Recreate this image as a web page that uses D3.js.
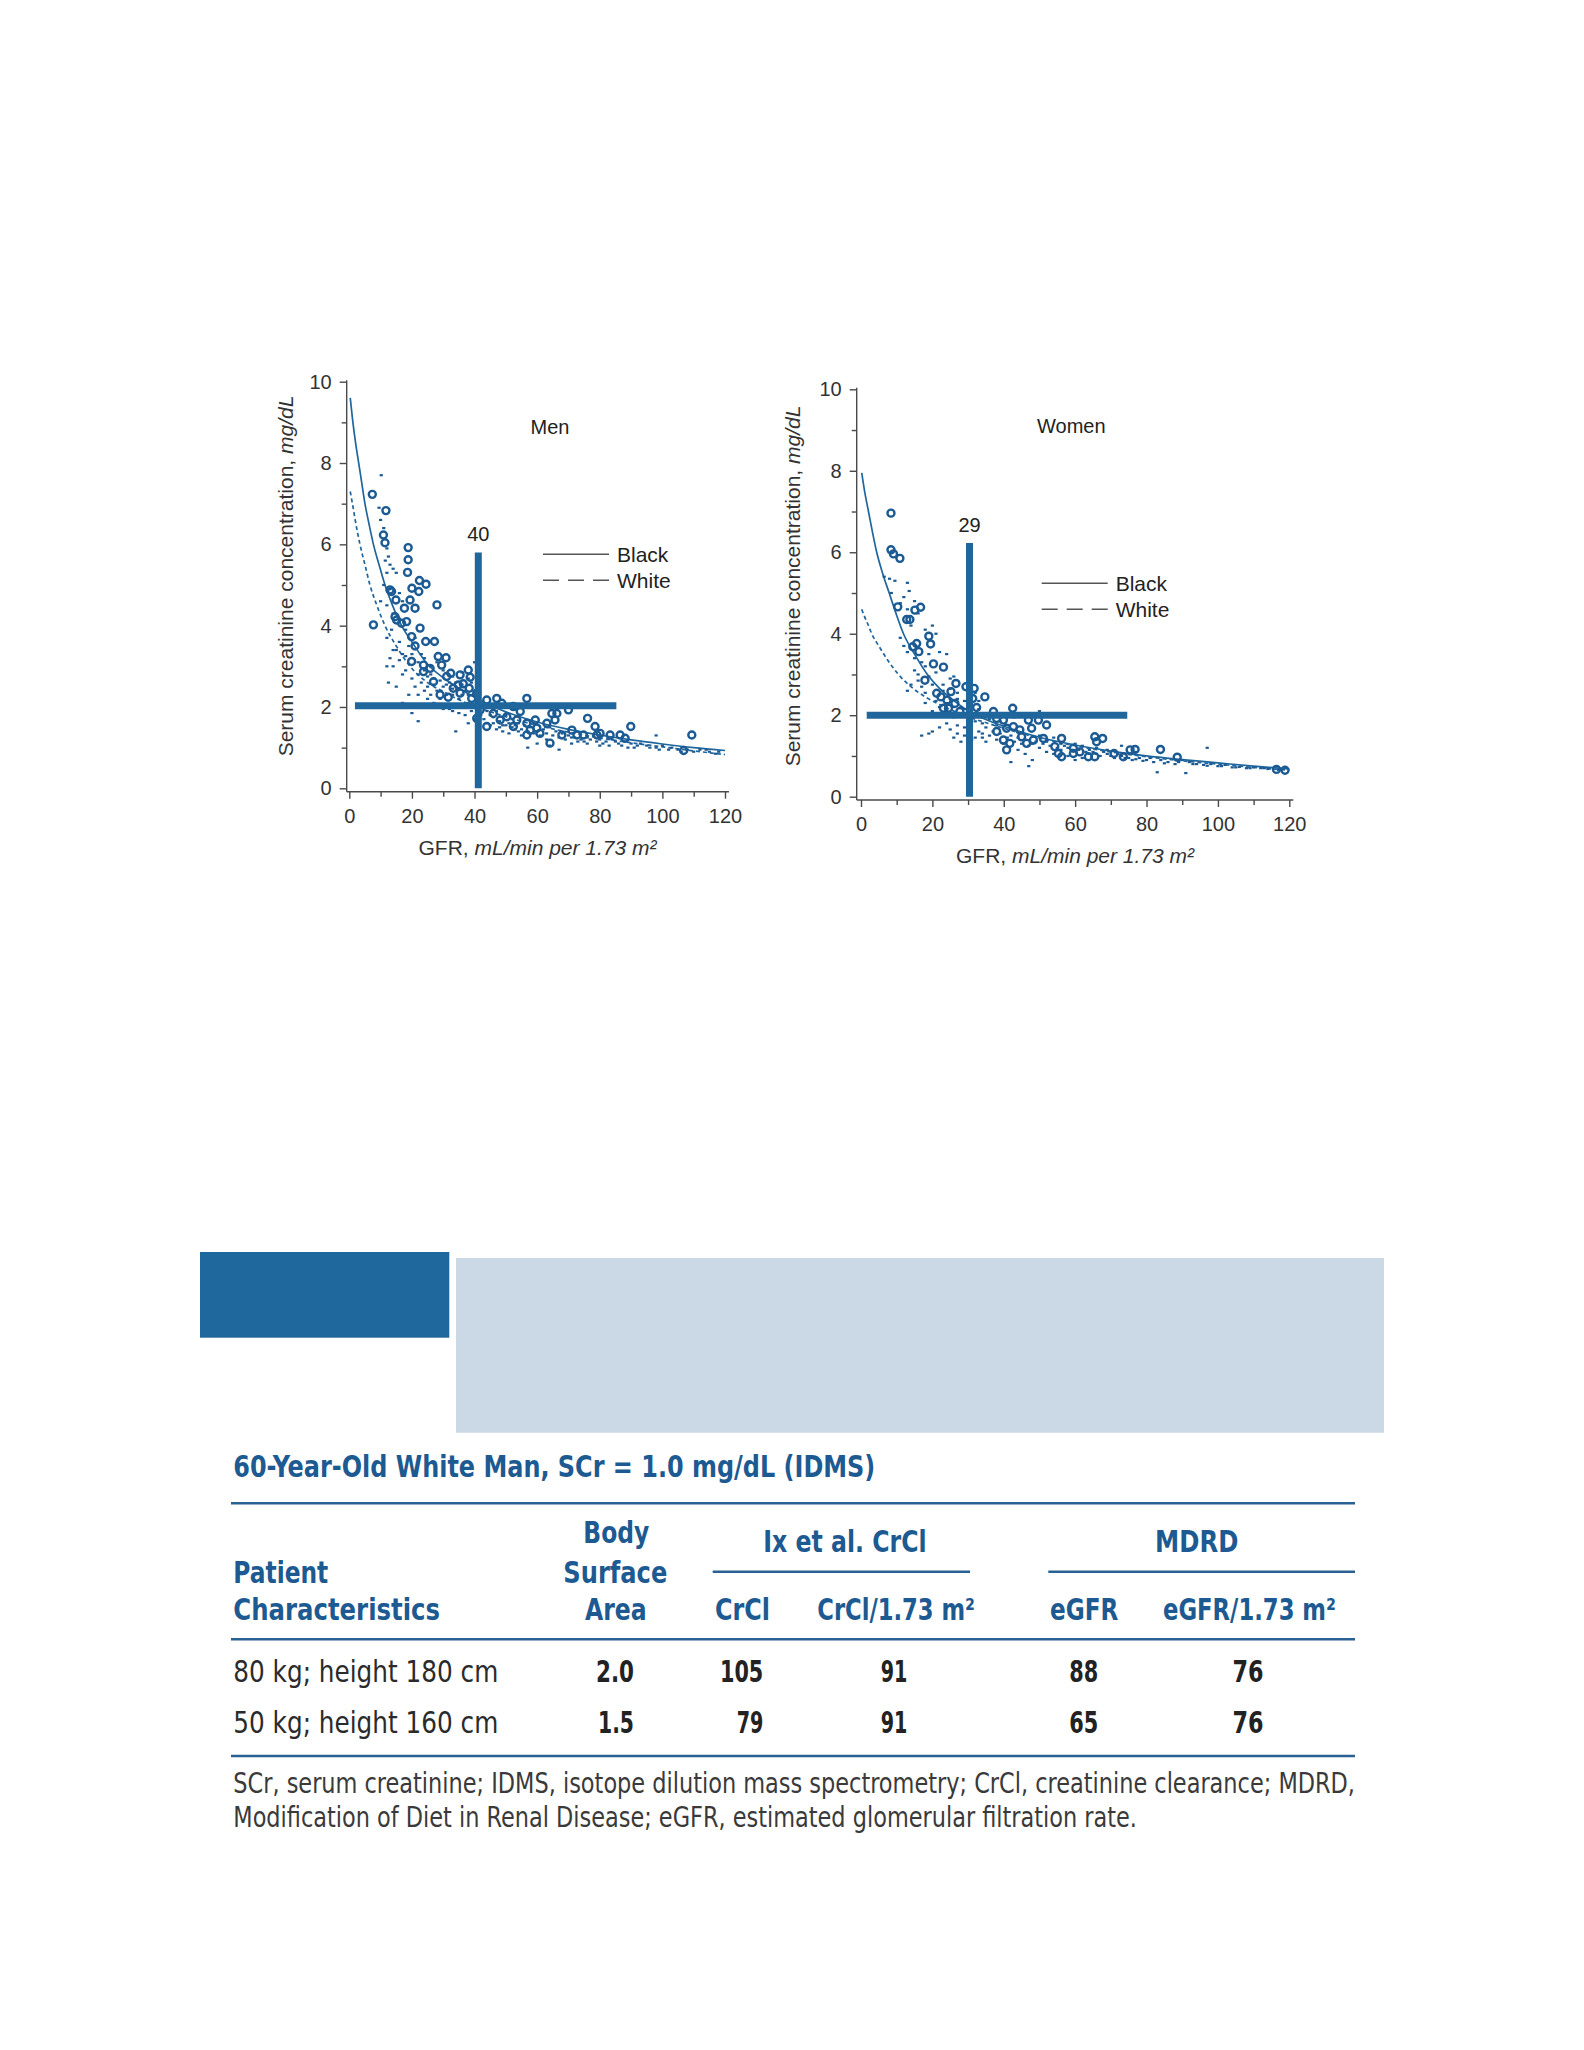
<!DOCTYPE html>
<html>
<head>
<meta charset="utf-8">
<script src="https://cdn.jsdelivr.net/npm/d3@7"></script>
<style>
  body { margin: 0; background: #fff; }
  svg text { font-family: "Liberation Sans", Arial, Helvetica, sans-serif; }
  svg text.tbl { font-family: "Liberation Sans Narrow", "DejaVu Sans Condensed", "Liberation Sans", Arial, sans-serif; }
</style>
</head>
<body>
<script>
// small stand-in for d3-selection-multi
d3.selection.prototype.attrs = function(o) {
  Object.keys(o).forEach(k => this.attr(k, o[k]));
  return this;
};

// ---- data: [GFR, serum creatinine] ----
const xTicks = [0, 20, 40, 60, 80, 100, 120];
const xMinor = [10, 30, 50, 70, 90, 110];
const yTicks = [0, 2, 4, 6, 8, 10];
const yMinor = [1, 3, 5, 7, 9];
const legendLabels = ['Black', 'White'];

const menBlack = [[0.3,9.6],[1,9.1],[2,8.5],[3,8.0],[4,7.5],[5,7.0],[6.3,6.5],[7.7,6.0],[9.5,5.5],[11.4,5.0],[13.8,4.5],[16.7,4.0],[20,3.6],[25,3.05],[30,2.72],[35,2.46],[40,2.24],[45,2.04],[50,1.88],[60,1.63],[70,1.45],[80,1.31],[90,1.19],[100,1.09],[110,1.0],[120,0.93]];
const menWhite = [[0.3,7.3],[1,7.0],[2,6.55],[3.4,6.0],[5,5.5],[6.6,5.0],[8.8,4.5],[11.4,4.0],[15,3.5],[19.4,3.0],[25,2.6],[30,2.38],[35,2.18],[40,2.02],[50,1.76],[60,1.55],[70,1.38],[80,1.24],[90,1.12],[100,1.02],[110,0.92],[120,0.83]];
const womenBlack = [[0.2,7.95],[1,7.5],[2.1,7.0],[3.2,6.5],[4.4,6.0],[6,5.5],[7.9,5.0],[9.8,4.5],[11.9,4.0],[15,3.5],[18.6,3.0],[22,2.66],[26,2.36],[31,2.06],[36,1.86],[40,1.73],[50,1.46],[60,1.27],[70,1.12],[80,1.0],[90,0.91],[100,0.83],[110,0.75],[120,0.68]];
const womenWhite = [[0.2,4.6],[1,4.42],[2,4.22],[3,4.0],[5,3.7],[7.5,3.35],[10.5,3.0],[14,2.7],[18,2.45],[22,2.26],[26,2.1],[30,1.96],[36,1.79],[40,1.68],[50,1.44],[60,1.25],[70,1.1],[80,0.98],[90,0.88],[100,0.8],[110,0.72],[120,0.65]];

const menCircles = [[7.35,7.23],[11.7,6.83],[10.9,6.23],[11.4,6.04],[18.8,5.92],[18.8,5.62],[18.6,5.31],[22.4,5.11],[24.5,5.02],[20.0,4.92],[22.2,4.84],[13.5,4.84],[14.9,4.63],[19.4,4.63],[28.0,4.51],[17.6,4.43],[21.0,4.43],[14.6,4.22],[15.1,4.14],[7.7,4.02],[22.6,3.94],[19.9,3.73],[21.0,3.5],[24.4,3.61],[27.2,3.61],[19.9,3.12],[28.4,3.24],[30.9,3.21],[23.7,3.03],[25.8,2.95],[29.5,3.03],[32.4,2.83],[35.4,2.79],[38.0,2.91],[38.6,2.73],[36.4,2.57],[38.3,2.46],[33.2,2.46],[29.0,2.30],[31.6,2.24],[35.4,2.34],[39.1,2.21],[43.9,2.17],[47.1,2.21],[48.7,2.09],[52.4,2.01],[56.7,2.21],[54.6,1.89],[46.0,1.84],[50.3,1.76],[43.9,1.52],[59.4,1.68],[57.8,1.43],[56.7,1.31],[60.9,1.35],[64.7,1.84],[66.3,1.84],[65.7,1.68],[70.0,1.93],[64.1,1.11],[67.9,1.31],[72.7,1.31],[76.1,1.72],[74.8,1.31],[78.5,1.52],[79.1,1.31],[83.3,1.31],[86.5,1.31],[89.9,1.52],[88.1,1.23],[106.8,0.93],[109.4,1.31],[63.1,1.6],[52.4,1.52],[48.2,1.68],[41.8,1.93],[40.7,1.72],[59.9,1.48],[71.1,1.43],[80.1,1.35],[13.0,4.88],[18.3,4.1],[16.7,4.06],[31.1,2.75],[34.8,2.54],[26.9,2.62],[23.7,2.87],[40.7,2.34],[53.5,1.68],[56.7,1.6]];
const menDots = [[10.2,7.7],[9.5,6.9],[10,6.6],[11,6.4],[12,5.9],[12.5,5.7],[11.5,5.6],[13,5.5],[14,5.4],[15,5.3],[12,5.3],[11,5.0],[13,4.9],[16,4.8],[10,4.6],[12,4.5],[17,4.6],[14,4.3],[13.5,3.9],[12,3.7],[16,3.6],[18,3.9],[15,3.4],[17,3.3],[13,3.2],[14,3.4],[19,3.5],[20,3.3],[12,3.0],[18,2.9],[17,2.8],[12.5,2.6],[20,2.7],[22,2.8],[24,2.9],[21,2.5],[23,2.6],[25,2.5],[27,2.7],[26,2.3],[28,2.4],[30,2.5],[32,2.6],[29,2.2],[31,2.3],[33,2.3],[35,2.2],[34,2.6],[37,2.4],[36,2.0],[38,2.1],[39,1.9],[28,2.0],[30,1.95],[33,1.9],[35,1.85],[37,1.8],[24,2.0],[20,1.85],[22,1.65],[34,1.4],[38,1.6],[40,1.7],[42,1.8],[44,1.9],[46,1.75],[48,1.65],[50,1.8],[52,1.7],[54,1.6],[56,1.55],[58,1.5],[45,1.55],[47,1.45],[49,1.4],[51,1.35],[53,1.45],[55,1.3],[60,1.4],[62,1.45],[64,1.5],[66,1.4],[68,1.35],[63,1.2],[67,0.95],[60,1.1],[57,1.0],[70,1.3],[72,1.25],[74,1.2],[76,1.25],[78,1.3],[80,1.2],[82,1.15],[84,1.2],[86,1.1],[88,1.15],[90,1.1],[92,1.05],[95,1.05],[98,1.0],[100,1.05],[103,1.0],[105,0.95],[108,0.95],[112,0.95],[115,0.9],[118,0.9],[98,1.3],[76,1.1],[80,1.05],[71,1.1],[64,1.05],[28,3.1],[26,3.0],[23,3.3],[21,3.7],[30,2.9],[33,2.75],[31,2.05],[41,2.5],[36,2.85],[40,3.1],
  [25,2.2],[27,2.1],[29,2.05],[31,2.0],[32,1.95],[34,2.05],[36,2.3],[38,2.3],[39,2.6],[40,2.35],[41,2.0],[43,1.7],[45,1.8],[47,1.9],[49,1.55],[51,1.6],[53,1.55],[55,1.45],[57,1.4],[59,1.35],[61,1.3],[63,1.35],[65,1.3],[67,1.25],[69,1.2],[71,1.25],[73,1.15],[75,1.15],[77,1.2],[79,1.15],[81,1.1],[83,1.05],[85,1.15],[87,1.05],[89,1.0],[91,1.0],[93,1.1],[96,1.0],[99,0.95],[102,0.95],[106,0.9],[110,0.9],[114,0.95],[117,0.85],[26,2.8],[24,2.4],[22,2.3],[19,2.3],[17,2.1],[15,2.5],[14,3.0],[16,3.15],[18,3.25],[22,3.1],[24,3.2],[25,2.75],[27,2.55],[29,2.65],[31,2.55],[33,2.45],[36,2.55],[38,2.7],[44,1.6],[46,1.6],[48,1.5],[52,1.5],[54,1.4],[50,1.55]];

const womenCircles = [[8.4,6.96],[8.4,6.06],[9.1,5.96],[10.9,5.85],[10.3,4.66],[12.8,4.35],[13.7,4.35],[15.1,4.58],[16.7,4.65],[19.0,3.94],[19.5,3.75],[15.6,3.76],[16.2,3.56],[20.3,3.26],[23.1,3.18],[17.9,2.86],[26.6,2.78],[25.2,2.58],[22.4,2.45],[24.1,2.37],[29.4,2.7],[31.7,2.66],[34.7,2.45],[23.1,2.17],[24.5,2.17],[32.4,2.19],[37.1,2.09],[42.5,2.17],[27.7,2.09],[39.9,1.88],[40.8,1.68],[42.7,1.72],[44.5,1.64],[46.9,1.88],[47.8,1.68],[49.7,1.88],[52.0,1.76],[38.0,1.6],[39.9,1.39],[41.7,1.31],[40.8,1.15],[48.3,1.39],[51.1,1.43],[54.3,1.23],[56.2,1.43],[55.3,1.06],[56.2,0.98],[59.5,1.19],[61.3,1.1],[63.7,0.98],[65.5,1.47],[67.7,1.43],[66.0,1.35],[65.5,0.98],[70.9,1.06],[73.5,0.98],[76.8,1.16],[75.4,1.15],[83.9,1.16],[88.6,0.97],[116.4,0.67],[118.8,0.65],[45.0,1.47],[46.4,1.31],[59.5,1.06],[38.0,1.92],[31.3,2.41],[26.3,2.29],[21.2,2.54],[14.5,3.68]];
const womenDots = [[6.5,5.4],[8,5.35],[9.5,5.3],[13,5.25],[13.5,5.05],[12,4.9],[11,4.75],[13,4.6],[15,4.8],[16,4.5],[14,4.2],[18,4.1],[20,4.2],[21,4.0],[11,3.9],[12,3.7],[13,3.55],[15,3.4],[17,3.3],[19,3.5],[22,3.55],[24,3.5],[16,3.0],[19,2.95],[20,2.75],[23,2.75],[25,2.9],[26,2.95],[17,2.7],[14,2.75],[13,2.6],[18,2.55],[21,2.35],[22,2.2],[20,2.1],[24,2.3],[27,2.4],[28,2.2],[30,2.5],[32,2.55],[33,2.35],[29,2.15],[31,2.05],[26,1.95],[24,1.8],[22,1.7],[20,1.6],[27,1.75],[29,1.7],[32,1.85],[34,1.95],[36,1.9],[38,1.75],[34,1.55],[36,1.5],[30,1.55],[32,1.45],[26,1.45],[28,1.35],[17,1.5],[19,1.55],[30,1.25],[34,1.45],[38,1.4],[40,1.3],[42,1.5],[44,1.45],[46,1.4],[48,1.3],[50,1.5],[52,1.35],[54,1.45],[56,1.3],[58,1.2],[60,1.3],[62,1.25],[64,1.15],[66,1.2],[44,1.15],[46,1.05],[48,0.9],[47,0.75],[42,0.85],[50,1.2],[52,1.1],[54,1.05],[56,1.15],[58,1.0],[60,0.9],[62,0.95],[64,1.05],[66,1.05],[68,1.1],[70,1.0],[72,1.05],[74,0.95],[76,0.9],[78,0.95],[80,0.9],[82,0.85],[84,0.9],[86,0.85],[88,0.8],[90,0.9],[92,0.85],[94,0.8],[96,0.78],[98,0.8],[100,0.75],[102,0.78],[104,0.72],[106,0.73],[108,0.7],[110,0.72],[112,0.7],[114,0.68],[83,0.6],[91,0.58],[97,1.2],[77,1.1],[73,1.25],[69,1.15],[50,2.1],[43,1.95],[40,2.0],[25,2.4],[15,3.1],[8.5,5.0],
  [22,2.05],[24,2.1],[26,2.2],[28,2.05],[30,1.9],[32,2.0],[34,1.8],[35,1.7],[37,1.6],[39,1.55],[41,1.45],[43,1.35],[45,1.3],[47,1.25],[49,1.35],[51,1.3],[53,1.25],[55,1.2],[57,1.25],[59,1.15],[61,1.15],[63,1.1],[65,1.1],[67,1.0],[69,1.05],[71,0.95],[73,1.0],[75,0.95],[77,0.92],[79,0.88],[81,0.95],[85,0.82],[89,0.85],[93,0.8],[97,0.76],[101,0.75],[105,0.72],[109,0.7],[113,0.7],[117,0.66],[18,2.3],[16,2.85],[18,3.2],[21,3.05],[23,2.6],[25,2.65],[27,2.55],[29,2.35],[31,2.3],[33,2.15],[35,2.0],[37,1.95],[39,1.85],[33,1.6],[35,1.35],[31,1.4],[29,1.5],[27,1.55],[25,1.65]];

// cut-off crosshairs: GFR at SCr 2 mg/dL
const menCut = { label: '40', gfr: 41.2, scr: 2.03, top: 5.8, from: 1.8, to: 85.3 };
const womenCut = { label: '29', gfr: 30.4, scr: 2.0, top: 6.23, from: 1.6, to: 74.6 };

// table
const tableTitle = '60-Year-Old White Man, SCr = 1.0 mg/dL (IDMS)';
const rowLabels = ['80 kg; height 180 cm', '50 kg; height 160 cm'];
const bsa = ['2.0', '1.5'];
const crcl = ['105', '79'];
const crclPer173 = ['91', '91'];
const egfr = ['88', '65'];
const egfrPer173 = ['76', '76'];
const footnote = [
  'SCr, serum creatinine; IDMS, isotope dilution mass spectrometry; CrCl, creatinine clearance; MDRD,',
  'Modification of Diet in Renal Disease; eGFR, estimated glomerular filtration rate.'
];

const blue = '#1f669c';
const dotBlue = '#1b5a93';
const axisCol = '#4a4a4a';

const svg = d3.select('body').append('svg')
  .attr('width', 1584)
  .attr('height', 2050);

const panels = [
  { title: 'Men', black: menBlack, white: menWhite, circles: menCircles, dots: menDots, cut: menCut,
    x0: 349.3, x1: 725, y0: 788.3, y1: 381.7, axX: 346.7, axY: 791.7,
    titleX: 550, titleY: 434, legX: 543, legY: 554.3,
    yTitleX: 293, yTitleY: 576, xTitleX: 537.5, xTitleY: 855 },
  { title: 'Women', black: womenBlack, white: womenWhite, circles: womenCircles, dots: womenDots, cut: womenCut,
    x0: 861, x1: 1289.3, y0: 796.7, y1: 389.3, axX: 856.7, axY: 800,
    titleX: 1071.3, titleY: 433.3, legX: 1041.7, legY: 583.3,
    yTitleX: 800, yTitleY: 586, xTitleX: 1075, xTitleY: 863.3 }
];

panels.forEach(drawPanel);

function styleAxis(g) {
  g.select('.domain').remove();
  g.selectAll('line').attr('stroke', axisCol).attr('stroke-width', 1.4);
  g.selectAll('text').attr('fill', '#333').attr('font-size', 20);
}

function drawPanel(p) {
  const x = d3.scaleLinear().domain([0, 120]).range([p.x0, p.x1]);
  const y = d3.scaleLinear().domain([0, 10]).range([p.y0, p.y1]);
  const g = svg.append('g');

  // axes
  g.append('g').attr('transform', `translate(${p.axX},0)`)
    .call(d3.axisLeft(y).tickValues(yMinor).tickSize(5).tickFormat(''))
    .call(styleAxis);
  g.append('g').attr('transform', `translate(${p.axX},0)`)
    .call(d3.axisLeft(y).tickValues(yTicks).tickSize(7).tickPadding(8))
    .call(styleAxis);
  g.append('g').attr('transform', `translate(0,${p.axY})`)
    .call(d3.axisBottom(x).tickValues(xMinor).tickSize(5).tickFormat(''))
    .call(styleAxis);
  g.append('g').attr('transform', `translate(0,${p.axY})`)
    .call(d3.axisBottom(x).tickValues(xTicks).tickSize(7).tickPadding(10))
    .call(styleAxis);
  g.append('line')
    .attrs({ x1: p.axX, x2: p.axX, y1: y(10) - 1.5, y2: p.axY })
    .attr('stroke', axisCol).attr('stroke-width', 1.4);
  g.append('line')
    .attrs({ x1: p.axX, x2: x(120) + 4, y1: p.axY, y2: p.axY })
    .attr('stroke', axisCol).attr('stroke-width', 1.4);

  // axis titles
  const yt = g.append('text')
    .attr('transform', `translate(${p.yTitleX},${p.yTitleY}) rotate(-90)`)
    .attr('text-anchor', 'middle').attr('font-size', 21).attr('fill', '#333');
  yt.append('tspan').text('Serum creatinine concentration, ');
  yt.append('tspan').attr('font-style', 'italic').text('mg/dL');

  const xt = g.append('text')
    .attr('x', p.xTitleX).attr('y', p.xTitleY)
    .attr('text-anchor', 'middle').attr('font-size', 21).attr('fill', '#333');
  xt.append('tspan').text('GFR, ');
  xt.append('tspan').attr('font-style', 'italic').text('mL/min per 1.73 m²');

  g.append('text')
    .attr('x', p.titleX).attr('y', p.titleY)
    .attr('text-anchor', 'middle').attr('font-size', 20).attr('fill', '#222')
    .text(p.title);

  // curves
  const line = d3.line()
    .x(d => x(d[0]))
    .y(d => y(d[1]))
    .curve(d3.curveMonotoneX);
  g.append('path').datum(p.black)
    .attr('d', line).attr('fill', 'none')
    .attr('stroke', blue).attr('stroke-width', 1.7);
  g.append('path').datum(p.white)
    .attr('d', line).attr('fill', 'none')
    .attr('stroke', blue).attr('stroke-width', 1.7)
    .attr('stroke-dasharray', '4,3');

  // points
  g.selectAll('rect.dot')
    .data(p.dots).enter()
    .append('rect')
    .attr('class', 'dot')
    .attrs({
      x: d => x(d[0]) - 1.6,
      y: d => y(d[1]) - 1.1,
      width: 3.2,
      height: 2.2,
      fill: dotBlue
    });
  g.selectAll('circle')
    .data(p.circles).enter()
    .append('circle')
    .attrs({
      cx: d => x(d[0]),
      cy: d => y(d[1]),
      r: 3.5,
      fill: 'none',
      stroke: dotBlue,
      'stroke-width': 2.4
    });

  // crosshair bars
  const c = p.cut;
  g.append('line')
    .attrs({ x1: x(c.gfr), x2: x(c.gfr), y1: y(c.top), y2: y(0) })
    .attr('stroke', blue).attr('stroke-width', 7);
  g.append('line')
    .attrs({ x1: x(c.from), x2: x(c.to), y1: y(c.scr), y2: y(c.scr) })
    .attr('stroke', blue).attr('stroke-width', 7);
  g.append('text')
    .attr('x', x(c.gfr)).attr('y', y(c.top) - 11)
    .attr('text-anchor', 'middle').attr('font-size', 20).attr('fill', '#222')
    .text(c.label);

  // legend
  legendLabels.forEach((lab, i) => {
    const ly = p.legY + i * 26;
    g.append('line')
      .attrs({ x1: p.legX, x2: p.legX + 66, y1: ly, y2: ly })
      .attr('stroke', '#555').attr('stroke-width', 1.5)
      .attr('stroke-dasharray', i === 0 ? null : '16,9');
    g.append('text')
      .attr('x', p.legX + 74).attr('y', ly + 7.5)
      .attr('font-size', 21).attr('fill', '#222')
      .text(lab);
  });
}

// ---- table block ----
const tb = svg.append('g');
tb.append('rect').attrs({ x: 200, y: 1252, width: 249.3, height: 85.7, fill: '#1f689d' });
tb.append('rect').attrs({ x: 456, y: 1258, width: 928, height: 174.7, fill: '#cbd9e6' });

function ttext(str, o) {
  const t = tb.append('text')
    .attr('class', 'tbl')
    .attr('x', o.x).attr('y', o.y)
    .attr('text-anchor', o.anchor || 'start')
    .attr('font-size', o.size || 30)
    .attr('font-weight', o.bold ? 'bold' : 'normal')
    .attr('fill', o.fill || '#1d5a91')
    .text(str);
  if (o.len) t.attr('textLength', o.len).attr('lengthAdjust', 'spacingAndGlyphs');
  return t;
}

function rule(x1, x2, y) {
  tb.append('line').attrs({ x1: x1, x2: x2, y1: y, y2: y })
    .attr('stroke', '#2a6195').attr('stroke-width', 2.5);
}

ttext(tableTitle, { x: 233.3, y: 1476.7, bold: true, len: 642 });
rule(231, 1355, 1503.3);

ttext('Body', { x: 616.3, y: 1543.3, anchor: 'middle', bold: true, len: 66 });
ttext('Surface', { x: 615.3, y: 1583.3, anchor: 'middle', bold: true, len: 104 });
ttext('Area', { x: 615.8, y: 1620, anchor: 'middle', bold: true, len: 61.7 });
ttext('Patient', { x: 233.3, y: 1583.3, bold: true, len: 95 });
ttext('Characteristics', { x: 233.3, y: 1620, bold: true, len: 206.7 });
ttext('Ix et al. CrCl', { x: 845, y: 1551.7, anchor: 'middle', bold: true, len: 163.3 });
ttext('MDRD', { x: 1196.7, y: 1551.7, anchor: 'middle', bold: true, len: 83.3 });
rule(712.7, 970, 1571.7);
rule(1048.3, 1355, 1571.7);
ttext('CrCl', { x: 715, y: 1620, bold: true, len: 55 });
ttext('CrCl/1.73 m²', { x: 817.3, y: 1620, bold: true, len: 157.7 });
ttext('eGFR', { x: 1050, y: 1620, bold: true, len: 68.3 });
ttext('eGFR/1.73 m²', { x: 1163, y: 1620, bold: true, len: 173 });
rule(231, 1355, 1639.3);

const rowY = [1681.7, 1733.3];
const numCols = [
  { vals: bsa, right: 634, w: [38, 36] },
  { vals: crcl, right: 763.3, w: [43.3, 26.6] },
  { vals: crclPer173, right: 907.3, w: [26.6, 26.6] },
  { vals: egfr, right: 1098.3, w: [29, 29] },
  { vals: egfrPer173, right: 1263.5, w: [31, 31] }
];
rowLabels.forEach((lab, i) => {
  ttext(lab, { x: 233.3, y: rowY[i], fill: '#2b2b2b', len: 265 });
  numCols.forEach(col => {
    ttext(col.vals[i], { x: col.right, y: rowY[i], anchor: 'end', bold: true, fill: '#222', len: col.w[i] });
  });
});
rule(231, 1355, 1756);

ttext(footnote[0], { x: 233.3, y: 1793.3, size: 28, fill: '#3a3a3a', len: 1121.7 });
ttext(footnote[1], { x: 233.3, y: 1826.7, size: 28, fill: '#3a3a3a', len: 903.7 });
</script>
</body>
</html>
